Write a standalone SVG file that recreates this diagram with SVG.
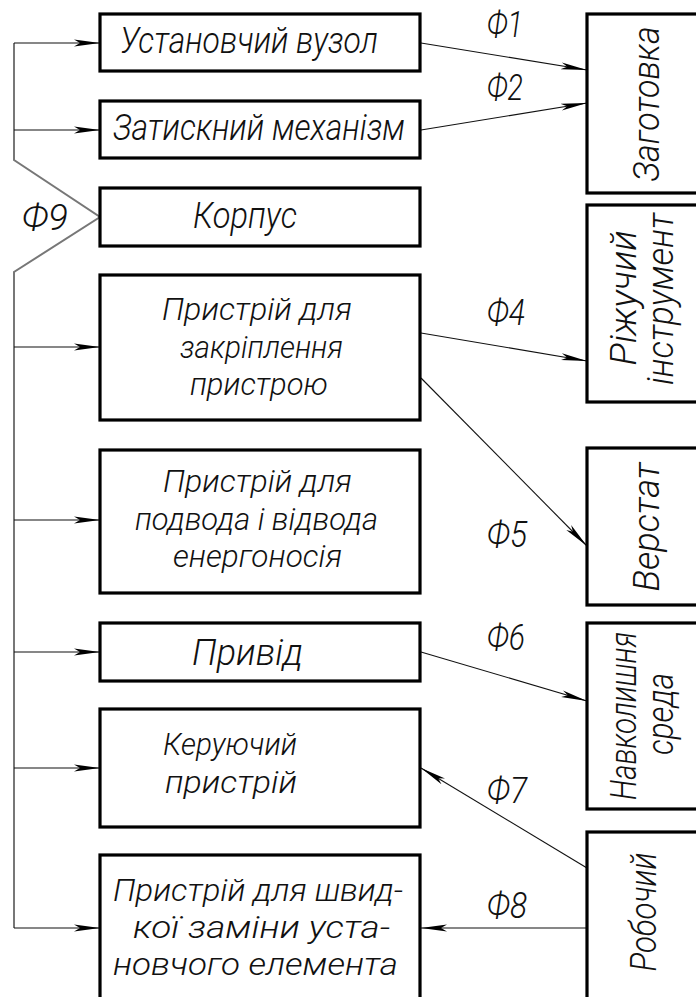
<svg xmlns="http://www.w3.org/2000/svg" width="696" height="997" viewBox="0 0 696 997">
<style>
.box{fill:#fff;stroke:#000;stroke-width:3.2}
.t{font-family:Roboto,"Liberation Sans",Arial,sans-serif;font-style:italic;font-weight:300;font-size:36px;fill:#111}
.m{font-size:31.5px}
.tr{font-family:Roboto,"Liberation Sans",Arial,sans-serif;font-style:italic;font-weight:300;font-size:36px;fill:#111;text-anchor:middle}
.c{stroke:#111;stroke-width:1.1;fill:none}
.bus{stroke:#777;stroke-width:2;fill:none}
</style>
<defs>
<marker id="ah" markerUnits="userSpaceOnUse" markerWidth="26" markerHeight="8" refX="26" refY="4" orient="auto">
<path d="M0,0.6 L26,4 L0,7.4 L6,4 Z" fill="#000"/>
</marker>
</defs>
<rect width="696" height="997" fill="#fff"/>

<g id="connectors">
<path class="bus" d="M14,43 V160 L100,217 L14,272 V928"/>
<line class="c" x1="14" y1="43" x2="100" y2="43" marker-end="url(#ah)"/>
<line class="c" x1="14" y1="130" x2="100" y2="130" marker-end="url(#ah)"/>
<line class="c" x1="14" y1="347" x2="100" y2="347" marker-end="url(#ah)"/>
<line class="c" x1="14" y1="520" x2="100" y2="520" marker-end="url(#ah)"/>
<line class="c" x1="14" y1="652" x2="100" y2="652" marker-end="url(#ah)"/>
<line class="c" x1="14" y1="768" x2="100" y2="768" marker-end="url(#ah)"/>
<line class="c" x1="14" y1="928" x2="100" y2="928" marker-end="url(#ah)"/>
<line class="c" x1="421" y1="43" x2="587" y2="70" marker-end="url(#ah)"/>
<line class="c" x1="421" y1="130" x2="587" y2="103" marker-end="url(#ah)"/>
<line class="c" x1="421" y1="333" x2="587" y2="361" marker-end="url(#ah)"/>
<line class="c" x1="421" y1="378" x2="587" y2="546" marker-end="url(#ah)"/>
<line class="c" x1="421" y1="652" x2="587" y2="701" marker-end="url(#ah)"/>
<line class="c" x1="587" y1="868" x2="421" y2="768" marker-end="url(#ah)"/>
<line class="c" x1="587" y1="928" x2="421" y2="928" marker-end="url(#ah)"/>
<text class="t" x="487" y="37" textLength="36" lengthAdjust="spacingAndGlyphs">Ф1</text>
<text class="t" x="487" y="100" textLength="36" lengthAdjust="spacingAndGlyphs">Ф2</text>
<text class="t" x="487" y="325" textLength="38" lengthAdjust="spacingAndGlyphs">Ф4</text>
<text class="t" x="487" y="547" textLength="40" lengthAdjust="spacingAndGlyphs">Ф5</text>
<text class="t" x="487" y="650" textLength="38" lengthAdjust="spacingAndGlyphs">Ф6</text>
<text class="t" x="487" y="803" textLength="40" lengthAdjust="spacingAndGlyphs">Ф7</text>
<text class="t" x="487" y="918" textLength="40" lengthAdjust="spacingAndGlyphs">Ф8</text>
<text class="t" x="22" y="230" textLength="46" lengthAdjust="spacingAndGlyphs">Ф9</text>
</g>

<g id="n1"><rect class="box" x="100" y="14" width="320" height="57"/>
<text class="t" x="120" y="53" textLength="258" lengthAdjust="spacingAndGlyphs">Установчий вузол</text></g>
<g id="n2"><rect class="box" x="100" y="101" width="320" height="57"/>
<text class="t" x="113" y="140" textLength="292" lengthAdjust="spacingAndGlyphs">Затискний механізм</text></g>
<g id="n3"><rect class="box" x="100" y="188" width="320" height="58"/>
<text class="t" x="193" y="228" textLength="104" lengthAdjust="spacingAndGlyphs">Корпус</text></g>
<g id="n4"><rect class="box" x="100" y="275" width="320" height="145"/>
<text class="t m" x="162" y="320" textLength="190" lengthAdjust="spacingAndGlyphs">Пристрій для</text>
<text class="t m" x="180" y="358" textLength="163" lengthAdjust="spacingAndGlyphs">закріплення</text>
<text class="t m" x="190" y="395" textLength="138" lengthAdjust="spacingAndGlyphs">пристрою</text></g>
<g id="n5"><rect class="box" x="100" y="450" width="320" height="143"/>
<text class="t m" x="163" y="492" textLength="189" lengthAdjust="spacingAndGlyphs">Пристрій для</text>
<text class="t m" x="135" y="530" textLength="243" lengthAdjust="spacingAndGlyphs">подвода і відвода</text>
<text class="t m" x="173" y="567" textLength="169" lengthAdjust="spacingAndGlyphs">енергоносія</text></g>
<g id="n6"><rect class="box" x="100" y="623" width="320" height="58"/>
<text class="t" x="192" y="665" textLength="111" lengthAdjust="spacingAndGlyphs">Привід</text></g>
<g id="n7"><rect class="box" x="100" y="709" width="320" height="118"/>
<text class="t m" x="163" y="755" textLength="134" lengthAdjust="spacingAndGlyphs">Керуючий</text>
<text class="t m" x="165" y="793" textLength="132" lengthAdjust="spacingAndGlyphs">пристрій</text></g>
<g id="n8"><rect class="box" x="100" y="855" width="320" height="160"/>
<text class="t m" x="113" y="900.5" textLength="290" lengthAdjust="spacingAndGlyphs">Пристрій для швид-</text>
<text class="t m" x="133" y="937.5" textLength="257" lengthAdjust="spacingAndGlyphs">кої заміни уста-</text>
<text class="t m" x="113" y="974.5" textLength="285" lengthAdjust="spacingAndGlyphs">новчого елемента</text></g>

<g id="r1"><rect class="box" x="587" y="14" width="130" height="179"/>
<text class="tr" x="659" y="104" transform="rotate(-90 659 104)" textLength="155" lengthAdjust="spacingAndGlyphs">Заготовка</text></g>
<g id="r2"><rect class="box" x="587" y="205" width="130" height="197"/>
<text class="tr m" x="636" y="298" transform="rotate(-90 636 298)" textLength="135" lengthAdjust="spacingAndGlyphs">Ріжучий</text>
<text class="tr m" x="673" y="299" transform="rotate(-90 673 299)" textLength="172" lengthAdjust="spacingAndGlyphs">інструмент</text></g>
<g id="r3"><rect class="box" x="587" y="448" width="130" height="157"/>
<text class="tr" x="659" y="527" transform="rotate(-90 659 527)" textLength="129" lengthAdjust="spacingAndGlyphs">Верстат</text></g>
<g id="r4"><rect class="box" x="587" y="623" width="130" height="186"/>
<text class="tr m" x="636" y="716" transform="rotate(-90 636 716)" textLength="168" lengthAdjust="spacingAndGlyphs">Навколишня</text>
<text class="tr m" x="673" y="714" transform="rotate(-90 673 714)" textLength="82" lengthAdjust="spacingAndGlyphs">среда</text></g>
<g id="r5"><rect class="box" x="587" y="832" width="130" height="180"/>
<text class="tr" x="656" y="912" transform="rotate(-90 656 912)" textLength="119" lengthAdjust="spacingAndGlyphs">Робочий</text></g>
</svg>
